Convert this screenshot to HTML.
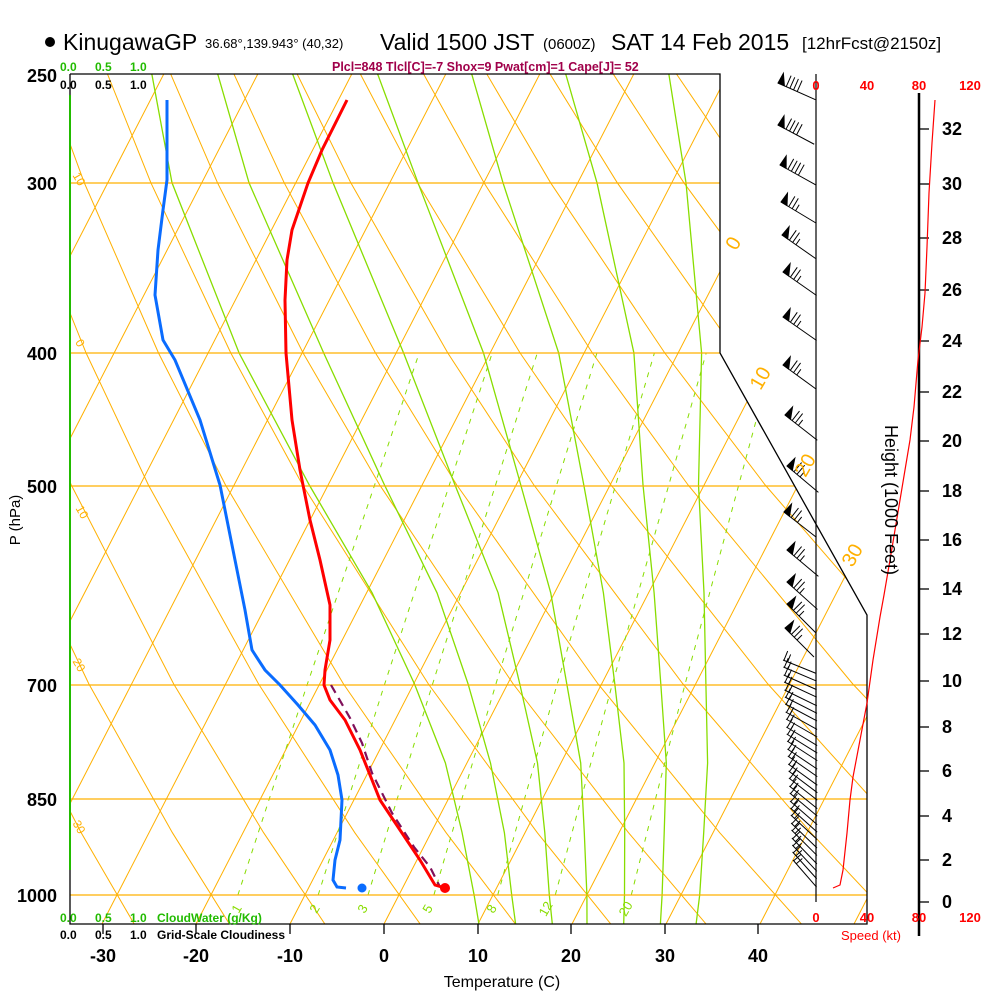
<!DOCTYPE html>
<html><head><meta charset="utf-8"><style>
html,body{margin:0;padding:0;background:#fff;}
svg{display:block;font-family:"Liberation Sans",sans-serif;}
</style></head><body>
<svg width="1000" height="1000" viewBox="0 0 1000 1000" xmlns="http://www.w3.org/2000/svg">
<defs>
<clipPath id="cp"><polygon points="70,74 720,74 720,353 867,615 867,924 70,924"/></clipPath>
<g id="bf4"><line x1="0" y1="0" x2="41" y2="0"/><polygon points="0,0 7,0 1,-11"/><line x1="9" y1="0" x2="9" y2="-12"/><line x1="13" y1="0" x2="13" y2="-12"/><line x1="17" y1="0" x2="17" y2="-12"/><line x1="21" y1="0" x2="21" y2="-12"/></g>
<g id="bf3"><line x1="0" y1="0" x2="41" y2="0"/><polygon points="0,0 7,0 1,-11"/><line x1="9" y1="0" x2="9" y2="-12"/><line x1="13" y1="0" x2="13" y2="-12"/><line x1="17" y1="0" x2="17" y2="-7"/></g>
<g id="b2"><line x1="0" y1="0" x2="36" y2="0"/><line x1="1" y1="0" x2="1" y2="-10"/><line x1="5" y1="0" x2="5" y2="-8"/></g>
</defs>
<g clip-path="url(#cp)" fill="none">
<g stroke="#ffb000" stroke-width="1">
<line x1="-368" y1="924" x2="69.8" y2="74"/><line x1="-274" y1="924" x2="163.8" y2="74"/><line x1="-180" y1="924" x2="257.8" y2="74"/><line x1="-86" y1="924" x2="351.8" y2="74"/><line x1="8" y1="924" x2="445.8" y2="74"/><line x1="102" y1="924" x2="539.8" y2="74"/><line x1="196" y1="924" x2="633.8" y2="74"/><line x1="290" y1="924" x2="727.8" y2="74"/><line x1="384" y1="924" x2="821.8" y2="74"/><line x1="478" y1="924" x2="915.8" y2="74"/><line x1="572" y1="924" x2="1009.8" y2="74"/><line x1="666" y1="924" x2="1103.8" y2="74"/><line x1="760" y1="924" x2="1197.8" y2="74"/><line x1="854" y1="924" x2="1291.8" y2="74"/>
</g>
<g stroke="#ffb000" stroke-width="1">
<polyline points="134.1,923.9 81.2,832.7 4,684"/>
<polyline points="229.4,923.9 172.4,832.7 88.9,684 -5.8,485"/>
<polyline points="324.8,923.9 263.6,832.7 173.7,684 71.3,485 13.8,353"/>
<polyline points="420.1,923.9 354.8,832.7 258.6,684 148.4,485 86.1,353 17.7,182.8 -26.8,50.8"/>
<polyline points="515.4,923.9 446.1,832.7 343.5,684 225.5,485 158.5,353 84.3,182.8 35.7,50.8"/>
<polyline points="610.7,923.9 537.3,832.7 428.4,684 302.6,485 230.8,353 150.9,182.8 98.2,50.8"/>
<polyline points="706,923.9 628.5,832.7 513.2,684 379.7,485 303.1,353 217.5,182.8 160.7,50.8"/>
<polyline points="801.4,923.9 719.7,832.7 598.1,684 456.8,485 375.5,353 284.2,182.8 223.2,50.8"/>
<polyline points="896.7,923.9 810.9,832.7 683,684 533.9,485 447.8,353 350.8,182.8 285.7,50.8"/>
<polyline points="992,923.9 902.1,832.7 767.9,684 611,485 520.1,353 417.4,182.8 348.2,50.8"/>
<polyline points="1087.3,923.9 993.3,832.7 852.8,684 688.1,485 592.4,353 484,182.8 410.7,50.8"/>
<polyline points="1182.6,923.9 1084.5,832.7 937.6,684 765.2,485 664.8,353 550.6,182.8 473.2,50.8"/>
<polyline points="1278,923.9 1175.7,832.7 1022.5,684 842.3,485 737.1,353 617.3,182.8 535.7,50.8"/>
<polyline points="1373.3,923.9 1266.9,832.7 1107.4,684 919.4,485 809.4,353 683.9,182.8 598.2,50.8"/>
<polyline points="1468.6,923.9 1358.1,832.7 1192.2,684 996.5,485 881.8,353 750.5,182.8 660.7,50.8"/>
<polyline points="1563.9,923.9 1449.3,832.7 1277.1,684 1073.6,485 954.1,353 817.1,182.8 723.2,50.8"/>
</g>
<g stroke="#88dd00" stroke-width="1.3">
<polyline points="478.9,923.9 474.1,895 462.1,832.7 445.4,763 414.5,684 372.1,592.8 309.3,485 239.1,353 172,182.8 152,75 148,66"/>
<polyline points="515.6,923.9 511.7,895 504.4,832.7 490.5,763 468.1,684 437,592.8 384.5,485 323.7,353 249,182.8 218,75 214,66"/>
<polyline points="552.3,923.9 549.3,895 544.8,832.7 537.5,763 519.8,684 498.1,592.8 455,485 403.6,353 333,182.8 293,75 289,66"/>
<polyline points="587,923.9 586.9,895 584.3,832.7 580.7,763 566.8,684 550.7,592.8 520.8,485 483.5,353 418,182.8 378,75 373,66"/>
<polyline points="623.7,923.9 624.5,895 624.7,832.7 624,763 614.8,684 603.4,592.8 583.8,485 558.7,353 503,182.8 472,75 468,66"/>
<polyline points="660.4,923.9 662.1,895 664.2,832.7 666.3,763 660.8,684 654.1,592.8 643,485 633.9,353 597,182.8 566,75 562,66"/>
<polyline points="696.1,923.9 699.7,895 703.7,832.7 707.6,763 705.9,684 704,592.8 698.5,485 701.6,353 686,182.8 669,75 667,66"/>
</g>
<g stroke="#88dd00" stroke-width="1" stroke-dasharray="5,6">
<polyline points="237.9,895 269.3,798.9 307.4,684 419.2,353"/>
<polyline points="318.2,895 348.3,798.9 384.7,684 492.2,353"/>
<polyline points="368,895 397.2,798.9 432.6,684 537.3,353"/>
<polyline points="433.9,895 461.9,798.9 495.9,684 596.9,353"/>
<polyline points="497.7,895 524.5,798.9 557.2,684 654.4,353"/>
<polyline points="555.3,895 581.1,798.9 612.4,684 706.2,353"/>
<polyline points="631.3,895 655.5,798.9 685.1,684 774.3,353"/>
</g>
</g>
<g stroke="#ffb000" stroke-width="1.3">
<line x1="70" y1="183" x2="720" y2="183"/><line x1="70" y1="353" x2="720" y2="353"/>
<line x1="70" y1="486" x2="795" y2="486"/><line x1="70" y1="685" x2="867" y2="685"/>
<line x1="70" y1="799" x2="867" y2="799"/><line x1="70" y1="895" x2="867" y2="895"/>
</g>
<polyline points="70,74 720,74 720,353 867,615 867,924 70,924 70,74" fill="none" stroke="#000" stroke-width="1.3"/>
<line x1="70" y1="95" x2="70" y2="870" stroke="#22bb00" stroke-width="2"/>
<line x1="816" y1="74" x2="816" y2="902" stroke="#000" stroke-width="1.2"/>
<line x1="919" y1="93" x2="919" y2="936" stroke="#000" stroke-width="2.5"/>
<g stroke="#000" stroke-width="1.3">
<line x1="103" y1="924" x2="103" y2="934"/><line x1="196" y1="924" x2="196" y2="934"/><line x1="290" y1="924" x2="290" y2="934"/><line x1="384" y1="924" x2="384" y2="934"/><line x1="478" y1="924" x2="478" y2="934"/><line x1="571" y1="924" x2="571" y2="934"/><line x1="665" y1="924" x2="665" y2="934"/><line x1="758" y1="924" x2="758" y2="934"/>
<line x1="919" y1="902" x2="929" y2="902"/><line x1="919" y1="860" x2="929" y2="860"/><line x1="919" y1="816" x2="929" y2="816"/><line x1="919" y1="771" x2="929" y2="771"/><line x1="919" y1="727" x2="929" y2="727"/><line x1="919" y1="681" x2="929" y2="681"/><line x1="919" y1="634" x2="929" y2="634"/><line x1="919" y1="589" x2="929" y2="589"/><line x1="919" y1="540" x2="929" y2="540"/><line x1="919" y1="491" x2="929" y2="491"/><line x1="919" y1="441" x2="929" y2="441"/><line x1="919" y1="392" x2="929" y2="392"/><line x1="919" y1="341" x2="929" y2="341"/><line x1="919" y1="290" x2="929" y2="290"/><line x1="919" y1="238" x2="929" y2="238"/><line x1="919" y1="184" x2="929" y2="184"/><line x1="919" y1="129" x2="929" y2="129"/>
</g>
<polyline points="331,685 350,718 362,743 372,773 392,813 414,847 430,867 440,887" fill="none" stroke="#80105a" stroke-width="2.2" stroke-dasharray="9,6"/>
<polyline points="347,100 322,150 308,183 292,230 287,260 285,300 286,353 292,420 300,470 310,520 320,560 330,605 330,640 325,670 324,685 330,700 345,720 360,750 372,780 380,800 400,830 420,860 435,885 445,888" fill="none" stroke="#f00" stroke-width="3"/>
<polyline points="167,100 167,180 163,210 158,250 155,295 163,340 175,360 200,420 220,485 235,560 245,610 252,650 265,670 280,685 298,705 315,725 330,750 338,775 342,800 340,840 335,860 333,880 337,887 346,888" fill="none" stroke="#0a6cff" stroke-width="3"/>
<circle cx="445" cy="888" r="5" fill="#f00"/>
<circle cx="362" cy="888" r="4.5" fill="#0a6cff"/>
<g stroke="#000" stroke-width="1" fill="#000">
<use href="#bf4" transform="translate(778,83) rotate(24)"/>
<use href="#bf4" transform="translate(778,125) rotate(28)"/>
<use href="#bf4" transform="translate(780,165) rotate(29)"/>
<use href="#bf3" transform="translate(781,202) rotate(31)"/>
<use href="#bf3" transform="translate(782,235) rotate(35)"/>
<use href="#bf3" transform="translate(783,272) rotate(35)"/>
<use href="#bf3" transform="translate(783,317) rotate(35)"/>
<use href="#bf3" transform="translate(783,365) rotate(36)"/>
<use href="#bf3" transform="translate(785,415) rotate(38)"/>
<use href="#bf3" transform="translate(787,466) rotate(40)"/>
<use href="#bf3" transform="translate(784,512) rotate(38)"/>
<use href="#bf3" transform="translate(787,550) rotate(40)"/>
<use href="#bf3" transform="translate(787,582) rotate(42)"/>
<use href="#bf3" transform="translate(787,604) rotate(45)"/>
<use href="#bf3" transform="translate(785,628) rotate(45)"/>
<use href="#b2" transform="translate(783,660) rotate(22)"/><use href="#b2" transform="translate(783.4,667) rotate(23)"/><use href="#b2" transform="translate(783.7,675) rotate(24)"/><use href="#b2" transform="translate(784.1,682) rotate(25)"/><use href="#b2" transform="translate(784.5,690) rotate(26)"/><use href="#b2" transform="translate(784.9,697) rotate(27)"/><use href="#b2" transform="translate(785.2,704) rotate(28)"/><use href="#b2" transform="translate(785.6,712) rotate(29)"/><use href="#b2" transform="translate(786,719) rotate(30)"/><use href="#b2" transform="translate(786.3,727) rotate(31)"/><use href="#b2" transform="translate(786.7,734) rotate(32)"/><use href="#b2" transform="translate(787.1,741) rotate(33)"/><use href="#b2" transform="translate(787.4,749) rotate(34)"/><use href="#b2" transform="translate(787.8,756) rotate(35)"/><use href="#b2" transform="translate(788.2,764) rotate(36)"/><use href="#b2" transform="translate(788.6,771) rotate(37)"/><use href="#b2" transform="translate(788.9,778) rotate(38)"/><use href="#b2" transform="translate(789.3,786) rotate(39)"/><use href="#b2" transform="translate(789.7,793) rotate(40)"/><use href="#b2" transform="translate(790,801) rotate(41)"/><use href="#b2" transform="translate(790.4,808) rotate(42)"/><use href="#b2" transform="translate(790.8,815) rotate(43)"/><use href="#b2" transform="translate(791.1,823) rotate(44)"/><use href="#b2" transform="translate(791.5,830) rotate(45)"/><use href="#b2" transform="translate(791.9,838) rotate(46)"/><use href="#b2" transform="translate(792.3,845) rotate(47)"/><use href="#b2" transform="translate(792.6,852) rotate(48)"/><use href="#b2" transform="translate(793,860) rotate(49)"/>
</g>
<polyline fill="none" stroke="#f00" stroke-width="1.2" points="833,888 840,885 843,870 847,833 850,800 853,777 860,740 867,703 873,660 880,617 884,595 890,560 900,500 910,440 914,407 918,360 922,327 925,293 927,247 929,193 932,143 935,100"/>
<circle cx="50" cy="42" r="5" fill="#000"/>
<text x="63" y="50" font-size="23">KinugawaGP</text>
<text x="205" y="48" font-size="13">36.68°,139.943° (40,32)</text>
<text x="380" y="50" font-size="23">Valid 1500 JST</text>
<text x="543" y="49" font-size="15">(0600Z)</text>
<text x="611" y="50" font-size="23">SAT 14 Feb 2015</text>
<text x="802" y="49" font-size="17">[12hrFcst@2150z]</text>
<text x="332" y="71" font-size="12.5" font-weight="bold" fill="#a0004a">Plcl=848 Tlcl[C]=-7 Shox=9 Pwat[cm]=1 Cape[J]= 52</text>
<g font-size="12" font-weight="bold">
<text x="60" y="71" fill="#22bb00">0.0</text><text x="95" y="71" fill="#22bb00">0.5</text><text x="130" y="71" fill="#22bb00">1.0</text>
<text x="60" y="89">0.0</text><text x="95" y="89">0.5</text><text x="130" y="89">1.0</text>
<text x="60" y="922" fill="#22bb00">0.0</text><text x="95" y="922" fill="#22bb00">0.5</text><text x="130" y="922" fill="#22bb00">1.0</text>
<text x="157" y="922" fill="#22bb00">CloudWater (g/Kg)</text>
<text x="60" y="939">0.0</text><text x="95" y="939">0.5</text><text x="130" y="939">1.0</text>
<text x="157" y="939">Grid-Scale Cloudiness</text>
</g>
<g font-size="18" font-weight="bold" text-anchor="end">
<text x="57" y="82">250</text><text x="57" y="190">300</text><text x="57" y="360">400</text>
<text x="57" y="493">500</text><text x="57" y="692">700</text><text x="57" y="806">850</text><text x="57" y="902">1000</text>
</g>
<text transform="translate(20,520) rotate(-90)" font-size="15" text-anchor="middle">P (hPa)</text>
<g font-size="18" font-weight="bold" text-anchor="middle">
<text x="103" y="962">-30</text><text x="196" y="962">-20</text><text x="290" y="962">-10</text><text x="384" y="962">0</text>
<text x="478" y="962">10</text><text x="571" y="962">20</text><text x="665" y="962">30</text><text x="758" y="962">40</text>
</g>
<text x="502" y="987" font-size="16" text-anchor="middle">Temperature (C)</text>
<g font-size="13" font-weight="bold" fill="#f00" text-anchor="middle">
<text x="816" y="90">0</text><text x="867" y="90">40</text><text x="919" y="90">80</text><text x="970" y="90">120</text>
<text x="816" y="922">0</text><text x="867" y="922">40</text><text x="919" y="922">80</text><text x="970" y="922">120</text>
<text x="871" y="940" font-weight="normal" font-size="13">Speed (kt)</text>
</g>
<text transform="translate(885,500) rotate(90)" font-size="18" text-anchor="middle">Height (1000 Feet)</text>
<g fill="#ffb000" font-size="20" text-anchor="middle">
<text transform="translate(733,243) rotate(-60)" dy="7">0</text>
<text transform="translate(760,378) rotate(-60)" dy="7">10</text>
<text transform="translate(805,465) rotate(-60)" dy="7">20</text>
<text transform="translate(852,555) rotate(-60)" dy="7">30</text>
</g>
<g fill="#ffb000" font-size="12" text-anchor="middle">
<text transform="translate(79,179) rotate(60)" dy="4">10</text>
<text transform="translate(80,343) rotate(60)" dy="4">0</text>
<text transform="translate(82,512) rotate(60)" dy="4">10</text>
<text transform="translate(79,665) rotate(60)" dy="4">20</text>
<text transform="translate(79,827) rotate(60)" dy="4">30</text>
</g>
<g fill="#88dd00" font-size="13" text-anchor="middle">
<text transform="translate(237,909) rotate(-60)" dy="4">1</text>
<text transform="translate(315,909) rotate(-60)" dy="4">2</text>
<text transform="translate(363,909) rotate(-60)" dy="4">3</text>
<text transform="translate(428,909) rotate(-60)" dy="4">5</text>
<text transform="translate(492,909) rotate(-60)" dy="4">8</text>
<text transform="translate(546,909) rotate(-60)" dy="4">12</text>
<text transform="translate(626,909) rotate(-60)" dy="4">20</text>
</g>
<g font-size="18" font-weight="bold">
<text x="942" y="908">0</text><text x="942" y="866">2</text><text x="942" y="822">4</text><text x="942" y="777">6</text>
<text x="942" y="733">8</text><text x="942" y="687">10</text><text x="942" y="640">12</text><text x="942" y="595">14</text>
<text x="942" y="546">16</text><text x="942" y="497">18</text><text x="942" y="447">20</text><text x="942" y="398">22</text>
<text x="942" y="347">24</text><text x="942" y="296">26</text><text x="942" y="244">28</text><text x="942" y="190">30</text>
<text x="942" y="135">32</text>
</g>
</svg>
</body></html>
